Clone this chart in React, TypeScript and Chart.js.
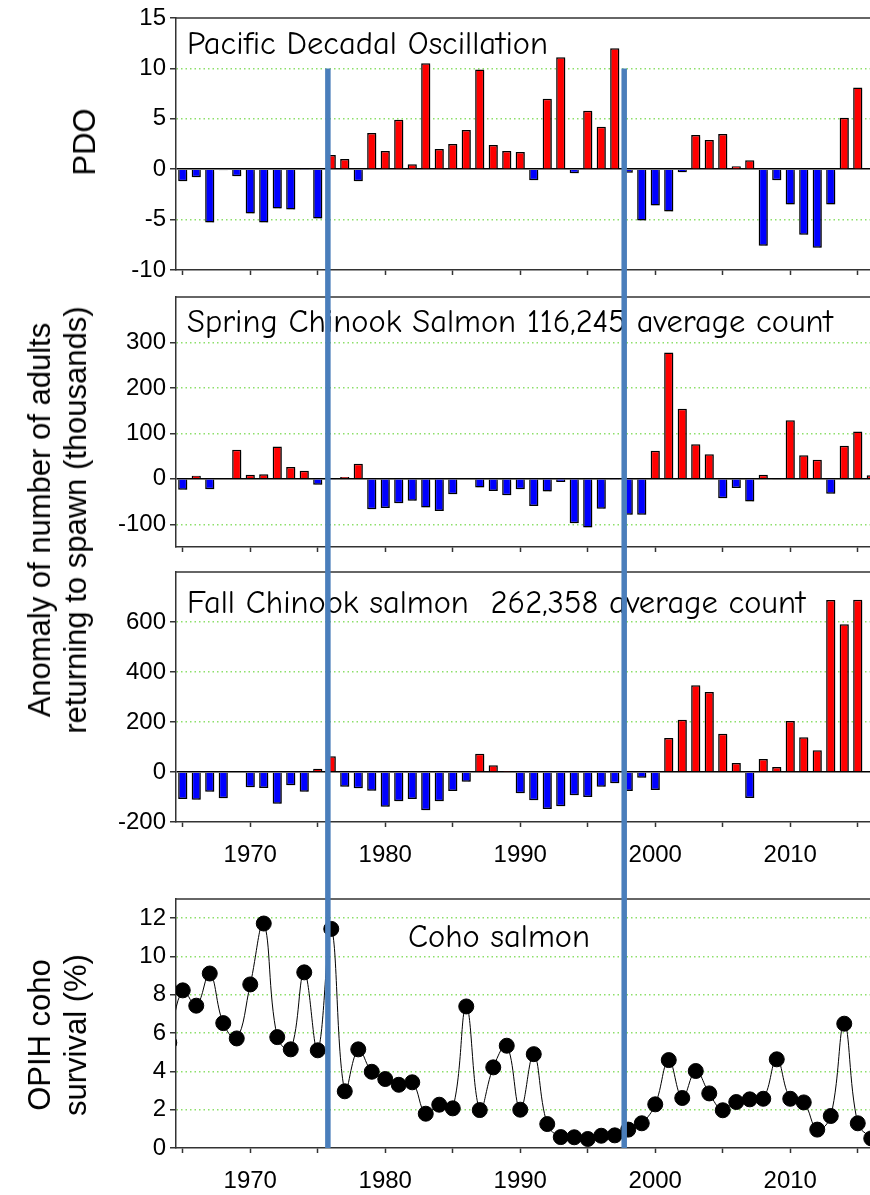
import React, { useEffect, useRef } from 'react';
import { Chart, registerables } from 'chart.js';

Chart.register(...registerables);

// ---------------- data ----------------
const barYears = [
  1965, 1966, 1967, 1968, 1969, 1970, 1971, 1972, 1973, 1974,
  1975, 1976, 1977, 1978, 1979, 1980, 1981, 1982, 1983, 1984,
  1985, 1986, 1987, 1988, 1989, 1990, 1991, 1992, 1993, 1994,
  1995, 1996, 1997, 1998, 1999, 2000, 2001, 2002, 2003, 2004,
  2005, 2006, 2007, 2008, 2009, 2010, 2011, 2012, 2013, 2014,
  2015, 2016,
];

const pdoValues = [
  -1.2, -0.8, -5.3, -0.1, -0.7, -4.4, -5.3, -3.9, -4.0, -0.05,
  -4.9, 1.4, 1.0, -1.2, 3.6, 1.8, 4.9, 0.5, 10.5, 2.0,
  2.5, 3.9, 9.9, 2.4, 1.8, 1.7, -1.1, 7.0, 11.1, -0.4,
  5.8, 4.2, 12.0, -0.35, -5.1, -3.6, -4.2, -0.3, 3.4, 2.9,
  3.5, 0.3, 0.9, -7.6, -1.1, -3.5, -6.5, -7.8, -3.5, 5.1,
  8.1,
];

const springValues = [
  -24, 7, -23, 2, 64, 9, 10, 71, 26, 18,
  -13, -2, 4, 33, -67, -64, -54, -48, -63, -71,
  -34, 2, -19, -27, -36, -23, -60, -28, -7, -98,
  -107, -66, -2, -79, -79, 62, 278, 154, 76, 54,
  -43, -20, -50, 9, -1, 129, 52, 42, -33, 73,
  104, 8,
];

const fallValues = [
  -108, -111, -79, -105, 0, -61, -64, -127, -53, -79,
  13, 63, -59, -65, -75, -139, -117, -108, -153, -117,
  -76, -39, 73, 27, 1, -85, -113, -148, -137, -93,
  -100, -59, -45, -76, -23, -72, 136, 209, 347, 320,
  153, 36, -104, 52, 20, 204, 139, 87, 688, 591,
  689,
];

const cohoYears = [
  1964, 1965, 1966, 1967, 1968, 1969, 1970, 1971, 1972, 1973, 1974,
  1975, 1976, 1977, 1978, 1979, 1980, 1981, 1982, 1983, 1984,
  1985, 1986, 1987, 1988, 1989, 1990, 1991, 1992, 1993, 1994,
  1995, 1996, 1997, 1998, 1999, 2000, 2001, 2002, 2003, 2004,
  2005, 2006, 2007, 2008, 2009, 2010, 2011, 2012, 2013, 2014,
  2015, 2016,
];

const cohoValues = [
  5.5, 8.23, 7.43, 9.11, 6.52, 5.72, 8.54, 11.72, 5.79, 5.15, 9.17,
  5.1, 11.44, 2.96, 5.15, 3.98, 3.6, 3.3, 3.43, 1.79, 2.26,
  2.07, 7.39, 1.98, 4.21, 5.34, 2.0, 4.9, 1.25, 0.57, 0.56,
  0.47, 0.64, 0.66, 0.96, 1.29, 2.28, 4.59, 2.61, 4.02, 2.85,
  1.97, 2.4, 2.54, 2.57, 4.63, 2.57, 2.38, 0.96, 1.67, 6.49,
  1.29, 0.5,
];

const xTickYears = [1965, 1970, 1975, 1980, 1985, 1990, 1995, 2000, 2005, 2010, 2015];
const xLabelYears = [1970, 1980, 1990, 2000, 2010];

const pdoTicks = [-10, -5, 0, 5, 10, 15];
const springTicks = [-100, 0, 100, 200, 300];
const fallTicks = [-200, 0, 200, 400, 600];
const cohoTicks = [0, 2, 4, 6, 8, 10, 12];

const regimeShiftYears = [1975.75, 1997.7];

const pdoTitle = 'Pacific Decadal Oscillation';
const springTitle = 'Spring Chinook Salmon 116,245 average count';
const fallTitle = 'Fall Chinook salmon  262,358 average count';
const cohoTitle = 'Coho salmon';

// ---------------- styles ----------------
const TICK_FONT = { family: '"Liberation Sans", Arial, sans-serif', size: 24 };
const TITLE_FONT = '32.5px "Comic Sans MS", "Comic Neue", "Noto Sans", sans-serif';
const AXIS_COLOR = '#333333';
const GRID_GREEN = '#8ddf6a';
const RED = '#ff0000';
const BLUE = '#0000ff';
const REGIME_BLUE = '#4a7ebb';
const CANVAS_W = 880;

const shadowPlugin = {
  id: 'barShadow',
  beforeDatasetsDraw(chart: any) {
    const ctx = chart.ctx;
    ctx.save();
    ctx.shadowColor = 'rgba(0,0,0,0.3)';
    ctx.shadowOffsetX = 2;
    ctx.shadowOffsetY = 2;
    ctx.shadowBlur = 1.5;
  },
  afterDatasetsDraw(chart: any) {
    chart.ctx.restore();
  },
};

const overlayPlugin = {
  id: 'overlay',
  afterDraw(chart: any, _args: any, opts: any) {
    const { ctx, chartArea: a, scales } = chart;
    ctx.save();
    // top frame line
    ctx.strokeStyle = AXIS_COLOR;
    ctx.lineWidth = 1.5;
    ctx.beginPath();
    ctx.moveTo(a.left, a.top);
    ctx.lineTo(a.right, a.top);
    ctx.stroke();
    // in-panel title
    ctx.font = TITLE_FONT;
    ctx.fillStyle = '#000';
    ctx.textBaseline = 'alphabetic';
    ctx.textAlign = 'left';
    ctx.fillText(opts.title, a.left + opts.titleDx, a.top + opts.titleDy);
    // regime shift lines
    const y0 = opts.lineFrom != null ? scales.y.getPixelForValue(opts.lineFrom) : 0;
    const y1 = opts.lineToArea ? a.bottom : chart.height;
    ctx.strokeStyle = REGIME_BLUE;
    ctx.lineWidth = 5.5;
    for (const yr of regimeShiftYears) {
      const x = scales.x.getPixelForValue(yr);
      ctx.beginPath();
      ctx.moveTo(x, y0);
      ctx.lineTo(x, y1);
      ctx.stroke();
    }
    ctx.restore();
  },
};

function makeXScale(showLabels: boolean, height: number) {
  return {
    type: 'linear',
    min: 1964.5,
    max: 2016.5,
    offset: false,
    afterBuildTicks: (s: any) => {
      s.ticks = xTickYears.map((v) => ({ value: v }));
    },
    afterFit: (s: any) => {
      s.height = height;
      s.paddingLeft = 0;
      s.paddingRight = 0;
    },
    ticks: {
      autoSkip: false,
      maxRotation: 0,
      minRotation: 0,
      padding: 14,
      font: TICK_FONT,
      color: '#000',
      callback: (v: any) => (showLabels && xLabelYears.includes(v) ? String(v) : ''),
    },
    grid: {
      offset: false,
      drawOnChartArea: false,
      drawTicks: true,
      tickLength: 5,
      tickColor: AXIS_COLOR,
      tickWidth: 1.5,
    },
    border: { color: AXIS_COLOR, width: 1.5 },
  };
}

function makeYScale(min: number, max: number, ticks: number[]) {
  return {
    min,
    max,
    afterBuildTicks: (s: any) => {
      s.ticks = ticks.map((v) => ({ value: v }));
    },
    afterFit: (s: any) => {
      s.width = 176;
      s.paddingTop = 0;
      s.paddingBottom = 0;
    },
    ticks: { font: TICK_FONT, color: '#000', padding: 4 },
    grid: {
      color: (c: any) => {
        if (!c.tick) return GRID_GREEN;
        const v = c.tick.value;
        if (v === min || v === max) return 'rgba(0,0,0,0)';
        return v === 0 ? '#000' : GRID_GREEN;
      },
      lineWidth: 1.5,
      tickLength: 6,
      tickColor: AXIS_COLOR,
      tickWidth: 1.5,
    },
    border: {
      color: AXIS_COLOR,
      width: 1.5,
      dash: (c: any) => (c.type === 'tick' && c.tick && c.tick.value !== 0 ? [1.5, 3] : []),
    },
  };
}

function baseOptions(padTop: number, overlay: any, x: any, y: any) {
  return {
    responsive: false,
    animation: false,
    devicePixelRatio: 1,
    layout: { autoPadding: false, padding: { top: padTop, right: 2, left: 0, bottom: 0 } },
    plugins: { legend: { display: false }, tooltip: { enabled: false }, overlay },
    scales: { x, y },
  };
}

function barConfig(values: number[], yMin: number, yMax: number, yTicks: number[], padTop: number, xHeight: number, showXLabels: boolean, overlay: any) {
  return {
    type: 'bar',
    data: {
      datasets: [
        {
          data: values.map((v, i) => ({ x: barYears[i], y: v })),
          backgroundColor: (c: any) => (c.parsed && c.parsed.y >= 0 ? RED : BLUE),
          borderColor: '#000',
          borderWidth: 1.5,
          barPercentage: 0.68,
          categoryPercentage: 1,
        },
      ],
    },
    options: baseOptions(padTop, overlay, makeXScale(showXLabels, xHeight), makeYScale(yMin, yMax, yTicks)),
    plugins: [shadowPlugin, overlayPlugin],
  };
}

function cohoConfig(padTop: number, xHeight: number) {
  return {
    type: 'line',
    data: {
      datasets: [
        {
          data: cohoValues.map((v, i) => ({ x: cohoYears[i], y: v })),
          borderColor: '#000',
          borderWidth: 1,
          pointRadius: 7.5,
          pointBackgroundColor: '#000',
          pointBorderColor: '#000',
          pointBorderWidth: 1,
          tension: 0.4,
          clip: { left: 0, top: 10, right: 10, bottom: 10 },
        },
      ],
    },
    options: baseOptions(
      padTop,
      { title: cohoTitle, titleDx: 232, titleDy: 48, lineFrom: null, lineToArea: true },
      makeXScale(true, xHeight),
      makeYScale(0, 13, cohoTicks)
    ),
    plugins: [overlayPlugin],
  };
}

const panels = [
  { top: 0, height: 285 },
  { top: 285, height: 273 },
  { top: 558, height: 312 },
  { top: 870, height: 325 },
];

const axisTitleStyle: React.CSSProperties = {
  position: 'absolute',
  transform: 'translate(-50%, -50%) rotate(-90deg)',
  fontFamily: '"Liberation Sans", Arial, sans-serif',
  fontSize: 31,
  lineHeight: '36px',
  textAlign: 'center',
  whiteSpace: 'nowrap',
  color: '#000',
};

export default function App() {
  const refs = [useRef<HTMLCanvasElement>(null), useRef<HTMLCanvasElement>(null), useRef<HTMLCanvasElement>(null), useRef<HTMLCanvasElement>(null)];

  useEffect(() => {
    const configs: any[] = [
      barConfig(pdoValues, -10, 15, pdoTicks, 18, 15, false, { title: pdoTitle, titleDx: 11, titleDy: 36, lineFrom: 10, lineToArea: false }),
      barConfig(springValues, -150, 400, springTicks, 12, 11, false, { title: springTitle, titleDx: 11, titleDy: 35, lineFrom: null, lineToArea: false }),
      barConfig(fallValues, -200, 800, fallTicks, 14, 48, true, { title: fallTitle, titleDx: 11, titleDy: 41, lineFrom: null, lineToArea: false }),
      cohoConfig(29, 47),
    ];
    const charts = configs.map((cfg, i) => new Chart(refs[i].current as HTMLCanvasElement, cfg));
    return () => charts.forEach((c) => c.destroy());
  }, []);

  return (
    <div style={{ position: 'absolute', left: 0, top: 0, width: 870, height: 1195, overflow: 'hidden', background: '#fff' }}>
      {panels.map((p, i) => (
        <canvas
          key={i}
          ref={refs[i]}
          width={CANVAS_W}
          height={p.height}
          style={{ position: 'absolute', left: 0, top: p.top, width: CANVAS_W, height: p.height, display: 'block' }}
        />
      ))}
      <div style={{ ...axisTitleStyle, left: 85, top: 142 }}>PDO</div>
      <div style={{ ...axisTitleStyle, left: 58, top: 520 }}>
        Anomaly of number of adults
        <br />
        returning to spawn (thousands)
      </div>
      <div style={{ ...axisTitleStyle, left: 58, top: 1035 }}>
        OPIH coho
        <br />
        survival (%)
      </div>
    </div>
  );
}
